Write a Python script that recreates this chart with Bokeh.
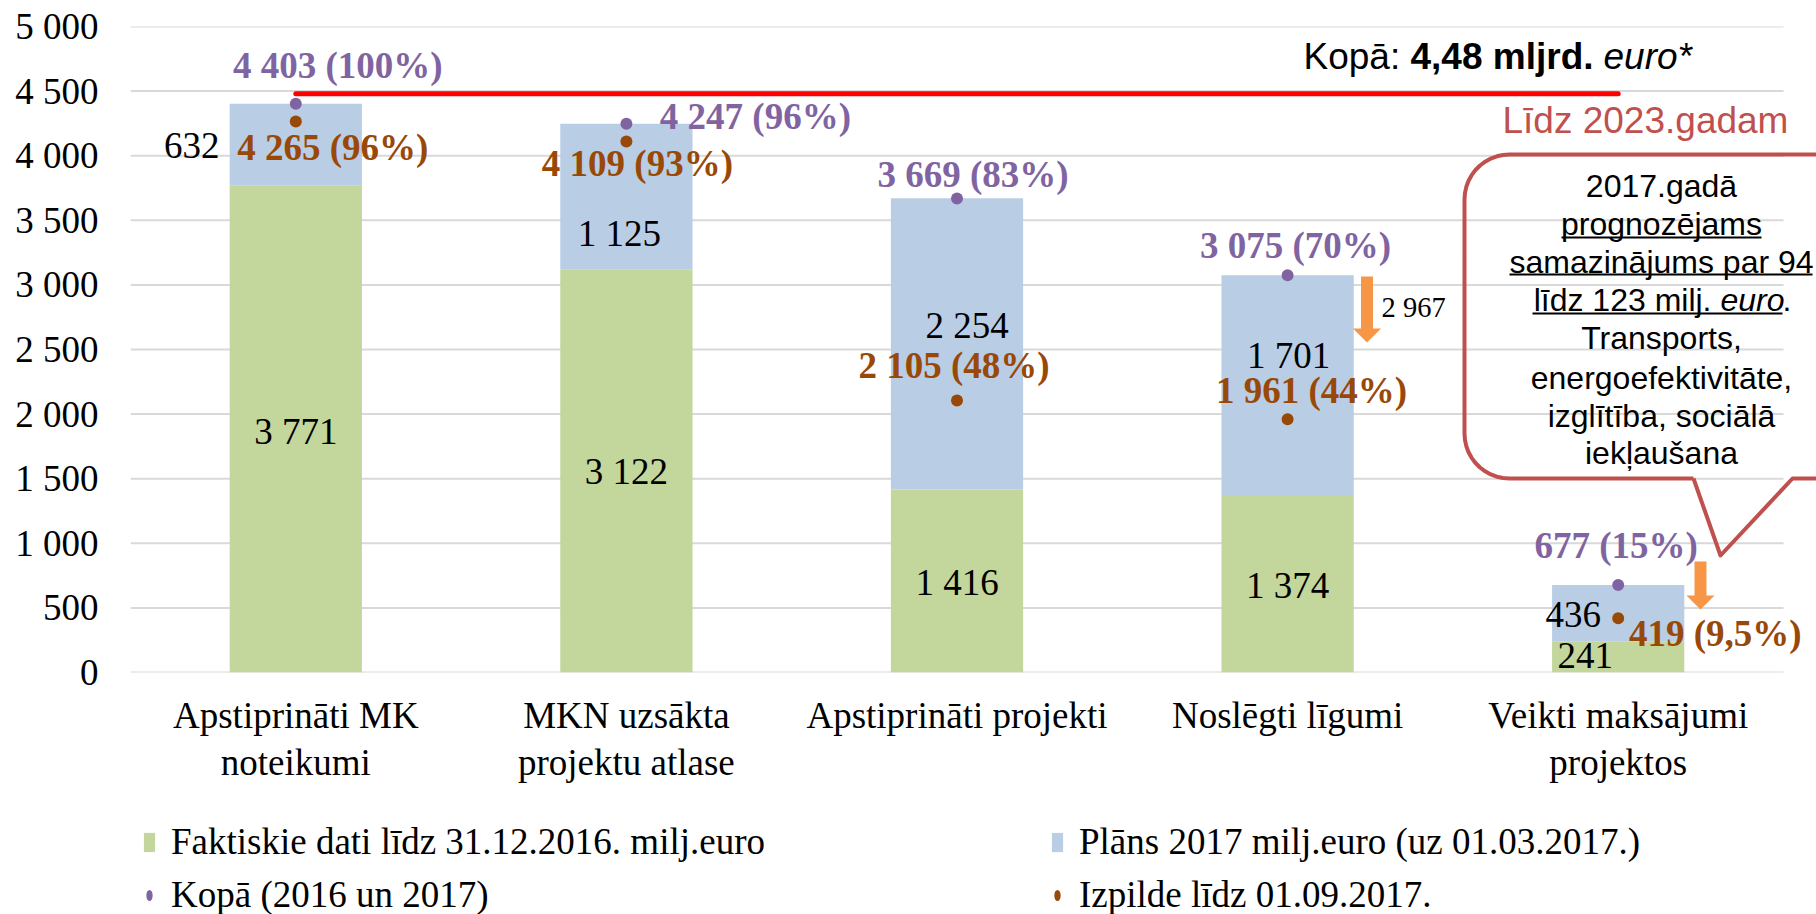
import numpy as np
from bokeh.plotting import figure
from bokeh.layouts import column
from bokeh.models import FixedTicker, Legend, LegendItem, Range1d
from bokeh.embed import file_html
from bokeh.resources import INLINE
from bokeh.core.properties import value

# ---------------- data ----------------
categories = ["Apstiprināti MK\nnoteikumi", "MKN uzsākta\nprojektu atlase",
              "Apstiprināti projekti", "Noslēgti līgumi", "Veikti maksājumi\nprojektos"]
actual_2016 = [3771, 3122, 1416, 1374, 241]
plan_2017 = [632, 1125, 2254, 1701, 436]
total_2016_2017 = [4403, 4247, 3669, 3075, 677]
total_share = ["100%", "96%", "83%", "70%", "15%"]
execution = [4265, 4109, 2105, 1961, 419]
execution_share = ["96%", "93%", "48%", "44%", "9,5%"]
y_ticks = [0, 500, 1000, 1500, 2000, 2500, 3000, 3500, 4000, 4500, 5000]
y_tick_labels = ["0", "500", "1 000", "1 500", "2 000", "2 500", "3 000",
                 "3 500", "4 000", "4 500", "5 000"]
total_budget = 4480
reduced_forecast = 2967
legend_labels = ["Faktiskie dati līdz 31.12.2016. milj.euro",
                 "Kopā (2016 un 2017)",
                 "Plāns 2017 milj.euro (uz 01.03.2017.)",
                 "Izpilde līdz 01.09.2017."]
callout_lines = ["2017.gadā", "prognozējams", "samazinājums par 94",
                 "līdz 123 milj.", "Transports,", "energoefektivitāte,",
                 "izglītība, sociālā", "iekļaušana"]

# ---------------- styles / layout ----------------
GREEN, BLUE = "#C3D69B", "#B9CDE5"
PURPLE, BROWN = "#8064A2", "#984807"
ORANGE, CALLOUT = "#F79646", "#C0504D"
SERIF, SANS = "Liberation Serif", "Liberation Sans"

W, H_TOTAL, H_MAIN = 1816, 914, 800
MB_LEFT, MB_TOP = 130, 26
X0, XS = 130.0, 330.6          # px of x=0, px per category
Y0, YS = 672.0, 646.0 / 5000   # px of y=0, px per unit
MB_BOTTOM = H_MAIN - int(Y0)
X_END = (W - MB_LEFT) / XS


def xd(px):
    return (px - X0) / XS


def yd(py):
    return (Y0 - py) / YS


def fmt(v):
    return f"{v:,}".replace(",", " ")


xc = [i + 0.5 for i in range(len(categories))]
stack_top = [a + b for a, b in zip(actual_2016, plan_2017)]

p = figure(width=W, height=H_MAIN, output_backend="svg", toolbar_location=None,
           x_range=Range1d(0, X_END), y_range=Range1d(0, 5000),
           min_border_left=MB_LEFT, min_border_top=MB_TOP,
           min_border_right=0, min_border_bottom=MB_BOTTOM)
p.outline_line_color = None
p.xgrid.visible = False
p.ygrid.visible = False

# axes
p.yaxis.ticker = FixedTicker(ticks=y_ticks)
p.yaxis.major_label_overrides = {t: l for t, l in zip(y_ticks, y_tick_labels)}
p.xaxis.ticker = FixedTicker(ticks=xc)
p.xaxis.major_label_overrides = {x: c for x, c in zip(xc, categories)}
for ax in (p.xaxis[0], p.yaxis[0]):
    ax.axis_line_color = None
    ax.major_tick_line_color = None
    ax.minor_tick_line_color = None
    ax.major_tick_out = 0
    ax.major_tick_in = 0
    ax.major_label_text_font = SERIF
    ax.major_label_text_font_size = "37px"
    ax.major_label_text_color = "black"
p.yaxis.major_label_standoff = 32
p.xaxis.major_label_standoff = 22
p.xaxis.major_label_text_line_height = 1.16

# gridlines
p.segment(x0=[0] * len(y_ticks), x1=[5] * len(y_ticks), y0=y_ticks, y1=y_ticks,
          line_color="#D9D9D9", line_width=2)

# bars
p.vbar(x=xc, bottom=0, top=actual_2016, width=0.4, fill_color=GREEN, line_color=None)
p.vbar(x=xc, bottom=actual_2016, top=stack_top, width=0.4, fill_color=BLUE, line_color=None)

# budget line
p.line(x=[xc[0], xc[-1]], y=[total_budget, total_budget], line_color="#FF0000",
       line_width=5, line_cap="round")

# dots
p.scatter(x=xc, y=total_2016_2017, size=12, fill_color=PURPLE, line_color=None)
p.scatter(x=xc, y=execution, size=12, fill_color=BROWN, line_color=None)


def txt(x, y, text, size, color="black", style="normal", align="center",
        font=SERIF, xo=0, yo=0):
    p.text(x=x, y=y, text=text, x_offset=xo, y_offset=yo,
           text_font=value(font), text_font_size=value(f"{size}px"),
           text_font_style=style, text_color=color, text_align=align,
           text_baseline="middle")


def ptxt(px, py, text, size, **kw):
    txt([xd(px)], [yd(py)], [text], size, **kw)


# bar segment labels
txt(xc, [a / 2 for a in actual_2016], [fmt(v) for v in actual_2016], 37,
    xo=[0, 0, 0, 0, -33], yo=[3, 1, 1, 2, -1])
txt(xc, [a + b / 2 for a, b in zip(actual_2016, plan_2017)], [fmt(v) for v in plan_2017], 37,
    xo=[-104, -7, 10, 1, -45], yo=[1, 37, -18, -30, 1])

# total labels
txt(xc, total_2016_2017, [f"{fmt(v)} ({s})" for v, s in zip(total_2016_2017, total_share)],
    37, color=PURPLE, style="bold", xo=[42, 129, 16, 8, -2], yo=[-38, -7, -24, -30, -40])
# execution labels
txt(xc, execution, [f"{fmt(v)} ({s})" for v, s in zip(execution, execution_share)],
    37, color=BROWN, style="bold", xo=[37, 11, -3, 24, 97], yo=[26, 22, -35, -29, 15])


# orange arrows
def arrow(cx, top, tip):
    pts = [(cx - 6, top), (cx + 6, top), (cx + 6, tip - 14), (cx + 14, tip - 14),
           (cx, tip), (cx - 14, tip - 14), (cx - 6, tip - 14)]
    p.patch([xd(a) for a, b in pts], [yd(b) for a, b in pts],
            fill_color=ORANGE, line_color=None)


arrow(1366.5, 276, 342)
arrow(1700, 561, 609)
ptxt(1381, 307, fmt(reduced_forecast), 28.5, align="left")

# totals text
ptxt(1303, 56, "Kopā:", 37, font=SANS, align="left")
ptxt(1410, 56, "4,48 mljrd.", 37, font=SANS, style="bold", align="left")
ptxt(1603, 56, "euro*", 37, font=SANS, style="italic", align="left")
ptxt(1502, 120, "Līdz 2023.gadam", 37, font=SANS, color=CALLOUT, align="left")

# callout shape
r, L, T, B, R = 45, 1464, 154, 478, 1900
pts = [(1693, B), (1720, 555), (1792, B), (R, B), (R, T), (L + r, T)]
for th in np.linspace(np.pi / 2, np.pi, 12):
    pts.append((L + r + r * np.cos(th), T + r - r * np.sin(th)))
for th in np.linspace(np.pi, 1.5 * np.pi, 12):
    pts.append((L + r + r * np.cos(th), B - r - r * np.sin(th)))
pts.append((1693, B))
p.line([xd(a) for a, b in pts], [yd(b) for a, b in pts], line_color=CALLOUT,
       line_width=4, line_join="round")

# callout text
line_y = [185, 223, 261, 299, 337, 377, 415, 452]
for i, (t, yy) in enumerate(zip(callout_lines, line_y)):
    if i == 3:
        ptxt(1711, yy, t, 32, font=SANS, align="right")
        ptxt(1720, yy, "euro", 32, font=SANS, style="italic", align="left")
        ptxt(1782, yy, ".", 32, font=SANS, align="left")
    else:
        ptxt(1661, yy, t, 32, font=SANS)
ul = [(1561, 1761, 237), (1509, 1812, 274), (1532, 1782, 313)]
p.segment(x0=[xd(a) for a, b, c in ul], x1=[xd(b) for a, b, c in ul],
          y0=[yd(c) for a, b, c in ul], y1=[yd(c) for a, b, c in ul],
          line_color="black", line_width=2)

# ---------------- legend strip ----------------
pl = figure(width=W, height=H_TOTAL - H_MAIN, output_backend="svg", toolbar_location=None,
            x_range=Range1d(0, 1), y_range=Range1d(0, 1),
            x_axis_type=None, y_axis_type=None,
            min_border_left=0, min_border_right=0, min_border_top=0, min_border_bottom=0)
pl.outline_line_color = None
pl.xgrid.visible = False
pl.ygrid.visible = False
# legend keys (placed outside the visible range, only their swatches are shown)
k_green = pl.vbar(x=[-10], top=[-10], width=0.4, fill_color=GREEN, line_color=None)
k_blue = pl.vbar(x=[-10], top=[-10], width=0.4, fill_color=BLUE, line_color=None)
k_purple = pl.ellipse(x=[-10], y=[-10], width=9, height=16, width_units="screen",
                      height_units="screen", fill_color=PURPLE, line_color=None)
k_brown = pl.ellipse(x=[-10], y=[-10], width=9, height=16, width_units="screen",
                     height_units="screen", fill_color=BROWN, line_color=None)

legend = Legend(items=[LegendItem(label=legend_labels[0], renderers=[k_green]),
                       LegendItem(label=legend_labels[1], renderers=[k_purple]),
                       LegendItem(label=legend_labels[2], renderers=[k_blue]),
                       LegendItem(label=legend_labels[3], renderers=[k_brown])],
                location=(12, -2), orientation="vertical", nrows=2,
                glyph_width=14, glyph_height=24, label_standoff=15,
                label_width=869, label_height=42, spacing=10,
                padding=0, margin=0, border_line_color=None,
                background_fill_alpha=0,
                label_text_font=SERIF, label_text_font_size="37px",
                label_text_color="black")
pl.add_layout(legend, "center")

layout = column(p, pl, spacing=0)
open("out.html", "w").write(file_html(layout, INLINE))
